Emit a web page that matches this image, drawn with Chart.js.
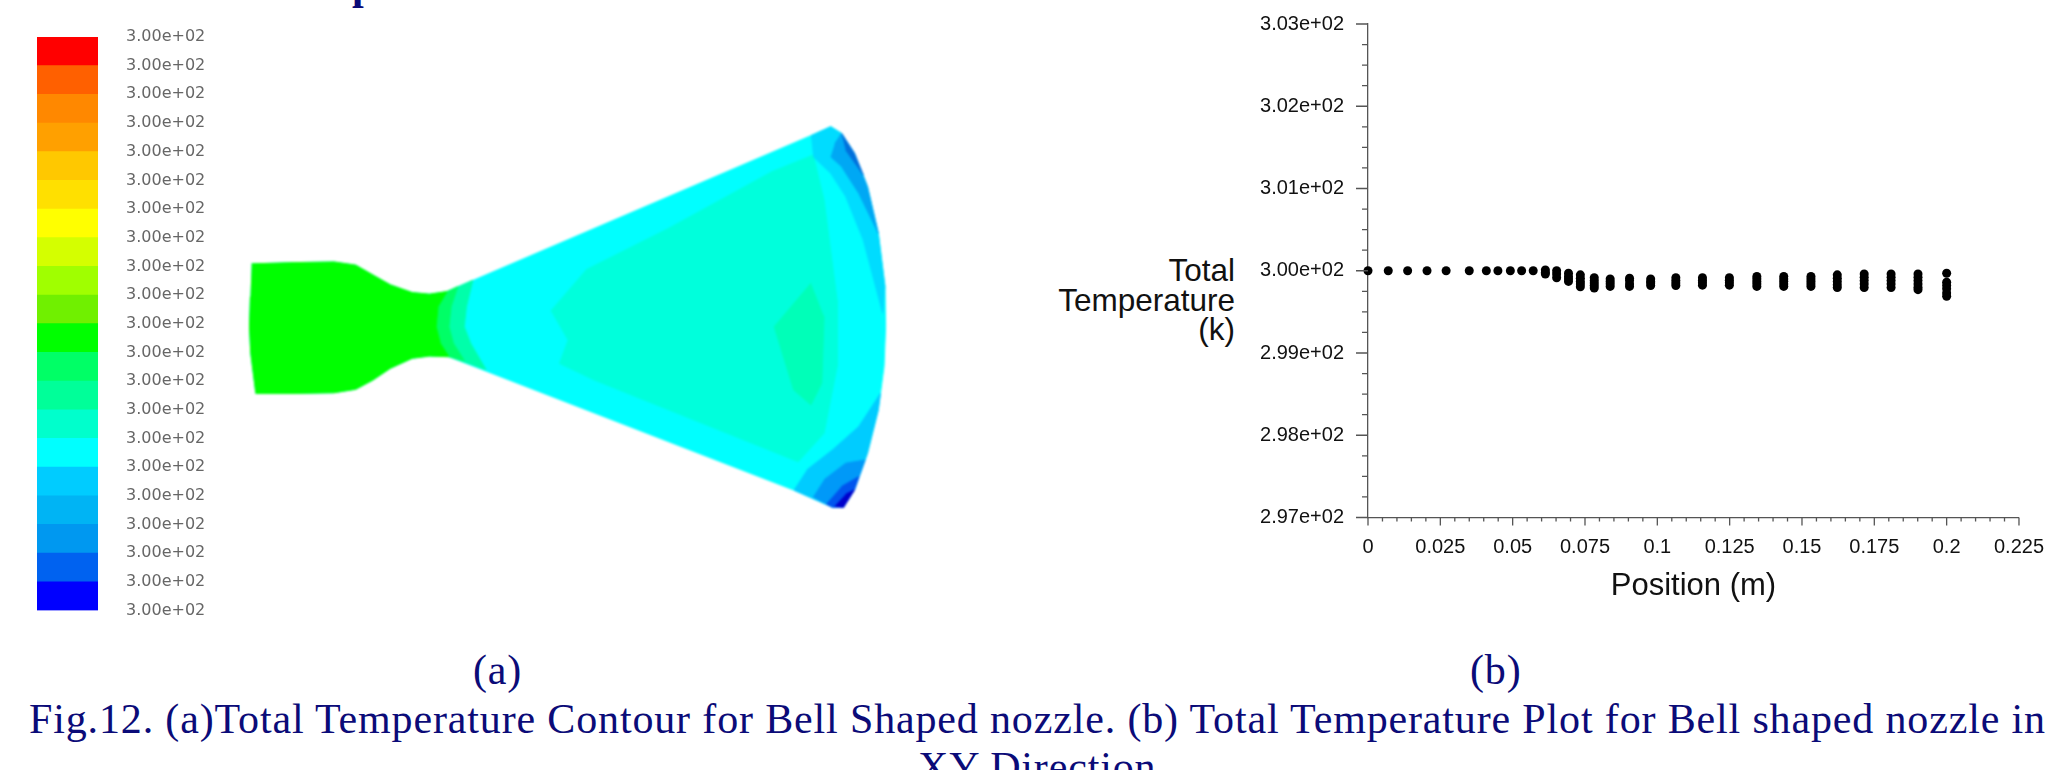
<!DOCTYPE html>
<html>
<head>
<meta charset="utf-8">
<title>Total Temperature - Bell Shaped nozzle</title>
<script src="https://cdn.jsdelivr.net/npm/chart.js@4/dist/chart.umd.min.js"></script>
<style>
  html, body { margin: 0; padding: 0; background: #fff; width: 2054px; height: 770px; overflow: hidden; }
  canvas { position: absolute; }
  .cap { position: absolute; font-family: "Liberation Serif", serif; color: #0b0b78; white-space: nowrap; line-height: 48px; font-size: 42px; letter-spacing: 0.85px; }
  .ytitle { position: absolute; left: 1035px; width: 200px; top: 256px; text-align: right; font: 31.5px/29.5px "Liberation Sans", sans-serif; color: #111; }
</style>
</head>
<body>
<div class="cap" style="left:23px;top:-39px;font-weight:bold">5.3.6</div>
<div class="cap" style="left:165px;top:-39px;font-weight:bold">Total Temperature</div>
<canvas id="legendCanvas" width="240" height="640" style="left:0;top:0"></canvas>
<canvas id="contourCanvas" width="680" height="440" style="left:230px;top:100px;filter:blur(1px)"></canvas>
<canvas id="plotCanvas" width="822" height="617" style="left:1240px;top:-12px"></canvas>
<div class="ytitle">Total<br>Temperature<br>(k)</div>
<div class="cap" style="left:473px;top:646px">(a)</div>
<div class="cap" style="left:1470px;top:646px">(b)</div>
<div class="cap" style="left:29px;top:695px">Fig.12. (a)Total Temperature Contour for Bell Shaped nozzle. (b) Total Temperature Plot for Bell shaped nozzle in</div>
<div class="cap" style="left:918px;top:743px">XY Direction</div>

<script>
////////////
// LEGEND //
////////////

// bottom band first
var legendColors = ["#0000ff", "#0062f0", "#0098f0", "#00b4f4", "#00ccff", "#00ffff", "#00ffcc", "#00ff99", "#00ff66", "#00ff00",
  "#70f000", "#a0ff00", "#d4ff00", "#ffff00", "#ffe000", "#ffc800", "#ffa000", "#ff8800", "#ff6000", "#ff0000"];
var legendBands = [1, 1, 1, 1, 1, 1, 1, 1, 1, 1, 1, 1, 1, 1, 1, 1, 1, 1, 1, 1];
var legendLabels = ["3.00e+02", "3.00e+02", "3.00e+02", "3.00e+02", "3.00e+02", "3.00e+02", "3.00e+02",
  "3.00e+02", "3.00e+02", "3.00e+02", "3.00e+02", "3.00e+02", "3.00e+02", "3.00e+02",
  "3.00e+02", "3.00e+02", "3.00e+02", "3.00e+02", "3.00e+02", "3.00e+02", "3.00e+02"];

/////////////
// CONTOUR //
/////////////

// nozzle outlines in mm, axial position and radial position
var nozzleWall = [[0.7, 20.1], [14.3, 20.5], [26.5, 20.7], [33.3, 19.7], [38.7, 16.6], [44.2, 13.5], [51, 11.1], [56.4, 10.6], [61.9, 11.4],
  [176, 60.3], [182.2, 63.1], [185.6, 61], [189.6, 54.8], [193.7, 44.3], [197.1, 29.7], [199.2, 13], [199.4, 0.4], [198.9, -12.1],
  [197.1, -25.7], [193.7, -39.3], [189.6, -50.8], [186.2, -56.2], [182.8, -56.2], [170.6, -50.8], [62.5, -9], [56.4, -8.8], [51, -9.5],
  [44.2, -12.6], [38.7, -16.3], [33.3, -19.2], [26.5, -20.3], [14.3, -20.5], [2, -20.5], [0.4, -7.9], [0, 0.4], [0.3, 9.8]];
var throatOuter = [[61.9, 11.4], [70, 15], [68, 6.7], [67.3, 0.4], [69.3, -4.8], [74.1, -13], [62.5, -9], [59.8, -4.8], [58.5, 0.4], [59.1, 6.7]];
var throatInner = [[61.9, 11.4], [65.3, 13], [63.2, 6.7], [62.5, 0.4], [63.9, -4.8], [67.3, -10.2], [62.5, -9], [59.8, -4.8], [58.5, 0.4], [59.1, 6.7]];
var inletCore = [[0.7, 20.1], [14.3, 20.5], [26.5, 20.7], [33.3, 19.7], [38.7, 16.6], [44.2, 13.5], [51, 11.1], [56.4, 10.6], [61.9, 11.4],
  [59.1, 6.7], [58.5, 0.4], [59.8, -4.8], [62.5, -9], [56.4, -8.8], [51, -9.5], [44.2, -12.6], [38.7, -16.3], [33.3, -19.2], [26.5, -20.3],
  [14.3, -20.5], [2, -20.5], [0.4, -7.9], [0, 0.4], [0.3, 9.8]];
var bellMiddle = [[105.4, 18.2], [131, 31], [163.8, 49], [176.7, 54.2], [180.1, 40.1], [184.2, 8.8], [184.2, -12.1], [180.1, -33], [172, -41.9],
  [108.1, -16.3], [97.2, -11.1], [99.9, -3.8], [94.5, 5.6]];
var bellCore = [[176, 14], [164.5, 0.4], [170.6, -19.4], [176, -24.1], [179.4, -17.3], [180.1, 3.6]];
var lipTopLight = [[176, 60.3], [182.2, 63.1], [185.6, 61], [189.6, 54.8], [193.7, 44.3], [197.1, 29.7], [199.2, 13], [198.5, 4.6],
  [192.4, 27.6], [186.9, 41.2], [182.2, 48.5], [176.7, 53.7]];
var lipTopMid = [[183.5, 57.8], [185.6, 61], [189.6, 54.8], [193.7, 44.3], [197.1, 29.7], [191, 42.2], [185.6, 50.6], [182.2, 53.7]];
var lipTopDark = [[185.6, 61], [189.6, 54.8], [192.4, 48], [186.9, 55.8]];
var lipLowLight = [[170.6, -50.8], [182.8, -56.2], [186.2, -56.2], [189.6, -50.8], [193.7, -39.3], [197.1, -25.7], [197.8, -20.5],
  [191, -30.9], [182.8, -38.2], [174.7, -44.5]];
var lipLowMid = [[176.7, -52.9], [182.8, -56.2], [186.2, -56.2], [189.6, -50.8], [193, -41.4], [186.9, -42.4], [180.1, -47.6]];
var lipLowDark = [[180.8, -55.2], [182.8, -56.2], [186.2, -56.2], [189.6, -50.8], [191, -46.6], [185.6, -49.7]];
var lipLowDeep = [[183.5, -55.8], [186.2, -56.2], [189.6, -50.8], [186.9, -52.1]];
// painted in this order, later ones on top
var contourShapes = [nozzleWall, throatOuter, throatInner, inletCore, bellMiddle, bellCore, lipTopLight, lipTopMid, lipTopDark,
  lipLowLight, lipLowMid, lipLowDark, lipLowDeep];
var contourColors = ["#00ffff", "#00ffaa", "#00ff66", "#00ff00", "#00ffdc", "#00ffb8", "#00dcff", "#00a8f4", "#0070dc",
  "#00ccff", "#0099f8", "#0055ee", "#0000cc"];

//////////
// PLOT //
//////////

var positions = [0, 0.007, 0.0137, 0.0204, 0.027, 0.035, 0.0409, 0.0449, 0.0492, 0.0531, 0.0571, 0.0613, 0.0652, 0.0693, 0.0734, 0.0782,
  0.0837, 0.0904, 0.0977, 0.1064, 0.1156, 0.1249, 0.1344, 0.1437, 0.1531, 0.1622, 0.1715, 0.1808, 0.1901, 0.2];
var temperatures = [[300], [300], [300], [300], [300], [300], [300], [300], [300], [300], [300],
  [300.01, 299.98, 299.96],
  [300, 299.96, 299.915],
  [299.97, 299.93, 299.9, 299.87],
  [299.95, 299.91, 299.87, 299.84, 299.805],
  [299.915, 299.88, 299.85, 299.82, 299.79],
  [299.9, 299.87, 299.84, 299.81],
  [299.91, 299.88, 299.84, 299.81],
  [299.9, 299.87, 299.85, 299.82],
  [299.915, 299.88, 299.85, 299.82],
  [299.915, 299.885, 299.855, 299.825],
  [299.915, 299.885, 299.855, 299.825],
  [299.93, 299.9, 299.87, 299.84, 299.81],
  [299.93, 299.9, 299.87, 299.84, 299.81],
  [299.93, 299.9, 299.87, 299.84, 299.81],
  [299.95, 299.91, 299.87, 299.83, 299.795],
  [299.96, 299.92, 299.88, 299.84, 299.795],
  [299.96, 299.92, 299.88, 299.84, 299.795],
  [299.96, 299.92, 299.88, 299.84, 299.8, 299.77],
  [299.97, 299.86, 299.82, 299.78, 299.73, 299.69]];
var xTickLabels = ["0", "0.025", "0.05", "0.075", "0.1", "0.125", "0.15", "0.175", "0.2", "0.225"];
var yTickLabels = ["2.97e+02", "2.98e+02", "2.99e+02", "3.00e+02", "3.01e+02", "3.02e+02", "3.03e+02"];

// legend bar
new Chart(document.getElementById("legendCanvas"), {
  type: "bar",
  data: {
    labels: ["Total Temperature"],
    datasets: legendBands.map(function(v, i) {
      return { data: [v], backgroundColor: legendColors[i], barPercentage: 1, categoryPercentage: 1, stack: "s" };
    })
  },
  options: {
    responsive: false,
    animation: false,
    devicePixelRatio: 1,
    layout: { padding: { left: 37, top: 37, bottom: 25, right: 0 } },
    plugins: { legend: { display: false }, tooltip: { enabled: false } },
    scales: {
      x: { stacked: true, display: false },
      y: {
        stacked: true,
        position: "right",
        min: 0,
        max: 20,
        afterFit: function(s) { s.width = 142; },
        grid: { display: false },
        border: { display: false },
        ticks: {
          stepSize: 1,
          autoSkip: false,
          padding: 20,
          color: "#666",
          font: { family: "DejaVu Sans", size: 16 },
          callback: function(v, i) { return legendLabels[i]; }
        }
      }
    }
  }
});

// nozzle contour
new Chart(document.getElementById("contourCanvas"), {
  type: "scatter",
  data: {
    datasets: contourShapes.map(function(shape, i) {
      return {
        data: shape.map(function(p) { return { x: p[0], y: p[1] }; }),
        showLine: true,
        fill: "shape",
        tension: 0,
        backgroundColor: contourColors[i],
        borderColor: contourColors[i],
        borderWidth: 1,
        pointRadius: 0,
        order: contourShapes.length - i
      };
    })
  },
  options: {
    responsive: false,
    animation: false,
    devicePixelRatio: 1,
    plugins: { legend: { display: false }, tooltip: { enabled: false } },
    scales: {
      x: { display: false, min: -6.11, max: 207.05 },
      y: { display: false, min: -66.46, max: 71.47 }
    }
  }
});

// axis ticks, long ones at the labelled values
var axisTicks = {
  id: "axisTicks",
  afterDraw: function(chart) {
    var ctx = chart.ctx;
    var x = chart.scales.x;
    var y = chart.scales.y;
    ctx.save();
    ctx.strokeStyle = "#555";
    ctx.lineWidth = 1.3;
    ctx.beginPath();
    x.ticks.forEach(function(t, i) {
      var px = x.getPixelForTick(i);
      ctx.moveTo(px, y.bottom);
      ctx.lineTo(px, y.bottom + (i % 5 == 0 ? 8 : 4));
    });
    y.ticks.forEach(function(t, i) {
      var py = y.getPixelForTick(i);
      ctx.moveTo(x.left, py);
      ctx.lineTo(x.left - (i % 4 == 0 ? 12 : 6), py);
    });
    ctx.stroke();
    ctx.restore();
  }
};

var plotPoints = [];
positions.forEach(function(pos, i) {
  temperatures[i].forEach(function(t) {
    plotPoints.push({ x: pos, y: t });
  });
});

new Chart(document.getElementById("plotCanvas"), {
  type: "scatter",
  data: {
    datasets: [{
      label: "Total Temperature",
      data: plotPoints,
      backgroundColor: "#000",
      borderColor: "#000",
      borderWidth: 0,
      pointRadius: 4.5,
      clip: false
    }]
  },
  options: {
    responsive: false,
    animation: false,
    devicePixelRatio: 1,
    layout: { padding: { left: 0, top: 11, right: 24, bottom: 0 } },
    plugins: { legend: { display: false }, tooltip: { enabled: false } },
    scales: {
      x: {
        min: 0,
        max: 0.225,
        afterFit: function(s) { s.height = 87.5; },
        grid: { display: false, drawTicks: false },
        border: { display: true, color: "#555", width: 1.3 },
        title: {
          display: true,
          text: "Position (m)",
          color: "#111",
          padding: 0,
          font: { family: "Liberation Sans", size: 31, lineHeight: 1.2 }
        },
        ticks: {
          stepSize: 0.005,
          autoSkip: false,
          maxRotation: 0,
          padding: 18,
          color: "#111",
          font: { family: "Liberation Sans", size: 20 },
          callback: function(v, i) { return i % 5 == 0 ? xTickLabels[i / 5] : ""; }
        }
      },
      y: {
        min: 297,
        max: 303,
        afterFit: function(s) { s.width = 128; },
        grid: { display: false, drawTicks: false },
        border: { display: true, color: "#555", width: 1.3 },
        ticks: {
          stepSize: 0.25,
          autoSkip: false,
          padding: 24,
          color: "#111",
          font: { family: "Liberation Sans", size: 20 },
          callback: function(v, i) { return i % 4 == 0 ? yTickLabels[i / 4] : ""; }
        }
      }
    }
  },
  plugins: [axisTicks]
});
</script>
</body>
</html>
